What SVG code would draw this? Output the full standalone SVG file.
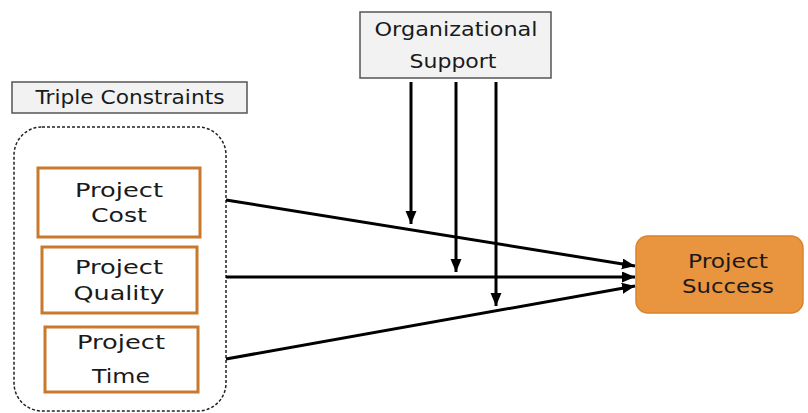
<svg xmlns="http://www.w3.org/2000/svg" width="808" height="413" viewBox="0 0 808 413">
<defs>
<style>
.t{font-family:"DejaVu Sans","Liberation Sans",sans-serif;font-size:19px;fill:#1a1a1a;text-anchor:middle}
.gray{fill:#f2f2f2;stroke:#555;stroke-width:1.5}
.obox{fill:#fff;stroke:#C8792C;stroke-width:3}
.c{stroke:#000;stroke-width:3;fill:none;marker-end:url(#ah)}
</style>
<marker id="ah" markerUnits="userSpaceOnUse" markerWidth="14" markerHeight="12" refX="13" refY="5.5" orient="auto">
<path d="M0,0 L13,5.5 L0,11 Z" fill="#000"/>
</marker>
</defs>
<rect width="808" height="413" fill="#fff"/>
<g id="triple-label">
<rect class="gray" x="12" y="82" width="235" height="31"/>
<text class="t" x="130" y="104" textLength="189" lengthAdjust="spacingAndGlyphs">Triple Constraints</text>
</g>
<g id="triple-group">
<rect x="14" y="127" width="212" height="284" rx="28" fill="none" stroke="#222" stroke-width="1.5" stroke-dasharray="3,2"/>
</g>
<g id="org-support">
<rect class="gray" x="360" y="12" width="191" height="66"/>
<text class="t" x="456" y="36" textLength="163" lengthAdjust="spacingAndGlyphs">Organizational</text>
<text class="t" x="453" y="68" textLength="87" lengthAdjust="spacingAndGlyphs">Support</text>
</g>
<g id="project-cost">
<rect class="obox" x="38" y="168" width="162" height="69"/>
<text class="t" x="119" y="197" textLength="88" lengthAdjust="spacingAndGlyphs">Project</text>
<text class="t" x="119" y="222" textLength="56" lengthAdjust="spacingAndGlyphs">Cost</text>
</g>
<g id="project-quality">
<rect class="obox" x="42" y="247" width="155" height="66"/>
<text class="t" x="119" y="274" textLength="88" lengthAdjust="spacingAndGlyphs">Project</text>
<text class="t" x="119" y="300" textLength="91" lengthAdjust="spacingAndGlyphs">Quality</text>
</g>
<g id="project-time">
<rect class="obox" x="45" y="327" width="153" height="65"/>
<text class="t" x="121" y="349" textLength="88" lengthAdjust="spacingAndGlyphs">Project</text>
<text class="t" x="121" y="383" textLength="58" lengthAdjust="spacingAndGlyphs">Time</text>
</g>
<g id="project-success">
<rect x="636" y="236" width="167" height="77" rx="12" fill="#E9943F" stroke="#d9822e" stroke-width="1.5"/>
<text class="t" x="728" y="268" textLength="80" lengthAdjust="spacingAndGlyphs">Project</text>
<text class="t" x="728" y="293" textLength="92" lengthAdjust="spacingAndGlyphs">Success</text>
</g>
<g id="connectors">
<line class="c" x1="226" y1="200" x2="635" y2="266"/>
<line class="c" x1="226" y1="277" x2="635" y2="277"/>
<line class="c" x1="226" y1="359" x2="635" y2="286"/>
<line class="c" x1="411" y1="82" x2="411" y2="224"/>
<line class="c" x1="456" y1="82" x2="456" y2="272"/>
<line class="c" x1="496" y1="82" x2="496" y2="306"/>
</g>
</svg>
